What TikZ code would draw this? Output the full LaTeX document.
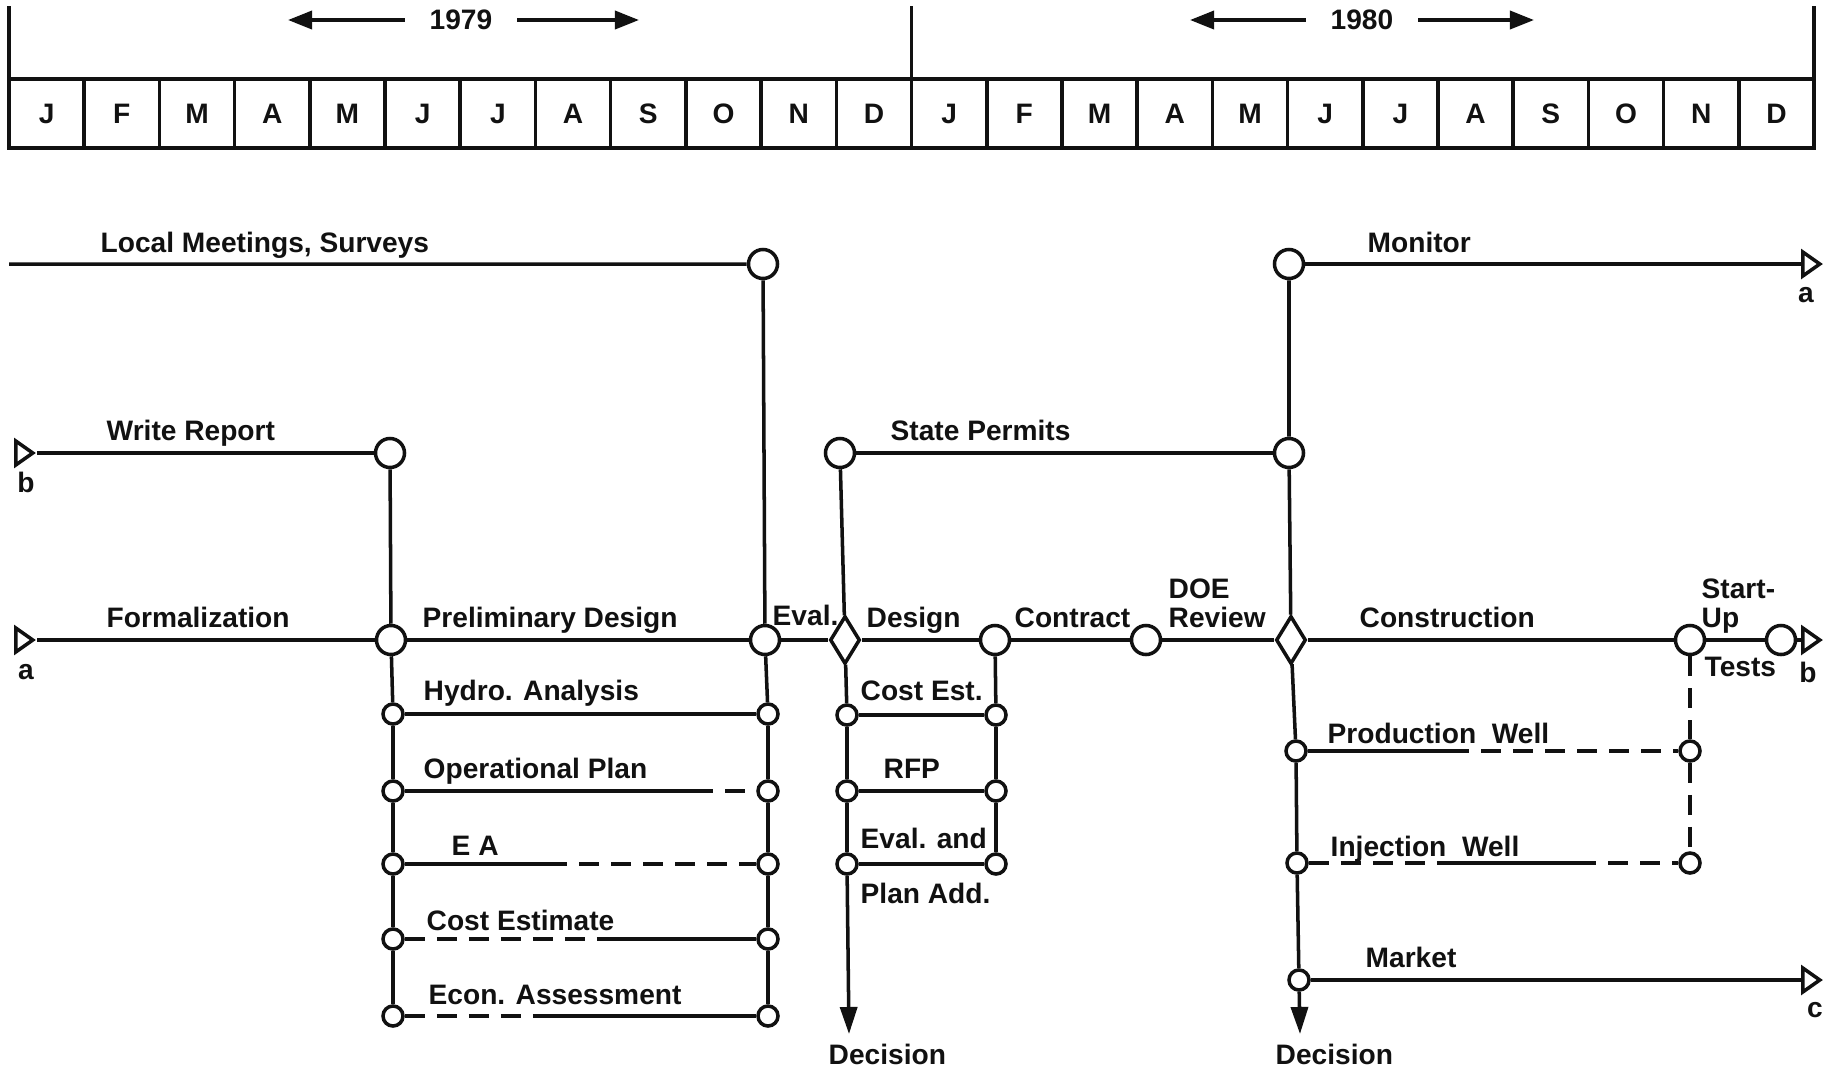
\documentclass[tikz,border=0pt]{standalone}
\usepackage{fontspec}
\setmainfont{Liberation Sans}
\usepackage{tikz}
\usetikzlibrary{arrows.meta,positioning,shapes.geometric}
\definecolor{ink}{HTML}{111111}
\tikzset{
  event/.style={
    circle, draw=ink, fill=white, line width=1pt,
    minimum size=0.29cm, inner sep=0pt
  },
  subevent/.style={event, minimum size=0.2cm},
  decision/.style={
    diamond, draw=ink, fill=white, line width=1pt,
    minimum width=0.3cm, minimum height=0.48cm, inner sep=0pt
  },
  offpagemark/.style={
    isosceles triangle, isosceles triangle stretches,
    draw=ink, fill=white, line width=1pt, inner sep=0pt,
    minimum width=0.24cm, minimum height=0.17cm
  },
  monthbox/.style={
    rectangle, draw=ink, line width=1pt, outer sep=0pt,
    minimum width=0.7521cm, minimum height=0.69cm, inner sep=0pt,
    font=\bfseries\fontsize{8}{10}\selectfont, text=ink
  },
  task/.style={draw=ink, line width=1pt},
  tentative/.style={task, dash pattern=on 0.2cm off 0.12cm},
  tasklabel/.style={
    anchor=base west, inner sep=0pt,
    font=\bfseries\fontsize{8}{10}\selectfont, text=ink
  },
  pagelabel/.style={inner sep=0pt, font=\bfseries\fontsize{8}{10}\selectfont, text=ink},
  yearlabel/.style={
    inner xsep=0.24cm, inner ysep=0pt,
    font=\bfseries\fontsize{8}{10}\selectfont, text=ink
  },
  yeararrow/.style={task, -{Triangle[length=0.24cm, width=0.18cm]}},
  decisionarrow/.style={task, -{Triangle[length=0.27cm, width=0.17cm]}},
}

\begin{document}
\begin{tikzpicture}[x=0.01cm, y=-0.01cm]
  \useasboundingbox (0,0) rectangle (1829,1069);

  % Calendar strip
  \foreach \m [count=\i from 0] in {J,F,M,A,M,J,J,A,S,O,N,D,J,F,M,A,M,J,J,A,S,O,N,D}
    \node[monthbox] (mo\i) at ({9+75.21*(\i+0.5)},113.5) {\m};
  \draw[task] (mo0.north west) -- ++(0,-73);
  \draw[task] (mo11.north east) -- ++(0,-73);
  \draw[task] (mo23.north east) -- ++(0,-73);

  \node[yearlabel] (yr79) at (461,20) {1979};
  \coordinate (yr79w) at (288,20);
  \coordinate (yr79e) at (639,20);
  \draw[yeararrow] (yr79) -- (yr79w);
  \draw[yeararrow] (yr79) -- (yr79e);

  \node[yearlabel] (yr80) at (1362,20) {1980};
  \coordinate (yr80w) at (1190,20);
  \coordinate (yr80e) at (1534,20);
  \draw[yeararrow] (yr80) -- (yr80w);
  \draw[yeararrow] (yr80) -- (yr80e);

  % Upper tracks
  \coordinate (lmstart) at (9,264);
  \node[event] (lm) at (763,264) {};
  \node[event] (mon) at (1289,264) {};
  \node[offpagemark] (ta2) at (1809,264) {};

  \node[offpagemark] (tb1) at (22,453) {};
  \node[event] (wr) at (390,453) {};
  \node[event] (sp1) at (840,453) {};
  \node[event] (sp2) at (1289,453) {};

  % Main line
  \node[offpagemark] (ta1) at (22,640) {};
  \node[event] (pd) at (391,640) {};
  \node[event] (ev) at (765,640) {};
  \node[decision] (dd) at (845,640) {};
  \node[event] (dc) at (995,640) {};
  \node[event] (doe) at (1146,640) {};
  \node[decision] (cd) at (1291,640) {};
  \node[event] (su) at (1690,640) {};
  \node[event] (su2) at (1781,640) {};
  \node[offpagemark] (tb2) at (1809,640) {};

  % Preliminary design ladder
  \foreach \n/\y in {hyd/714, ops/791, ea/864, cst/939, eco/1016} {
    \node[subevent] (\n1) at (393,\y) {};
    \node[subevent] (\n2) at (768,\y) {};
  }
  \coordinate (opsbrk) at (693,791);
  \coordinate (eabrk) at (547,864);
  \coordinate (cstbrk) at (610,939);
  \coordinate (ecobrk) at (545,1016);

  % Design ladder
  \foreach \n/\y in {ce/715, rfp/791, epa/864} {
    \node[subevent] (\n1) at (847,\y) {};
    \node[subevent] (\n2) at (996,\y) {};
  }
  \coordinate (dec1) at (849,1034);

  % Construction ladder
  \node[subevent] (pw1) at (1296,751) {};
  \node[subevent] (pw2) at (1690,751) {};
  \node[subevent] (iw1) at (1297,863) {};
  \node[subevent] (iw2) at (1690,863) {};
  \node[subevent] (mk1) at (1299,980) {};
  \node[offpagemark] (tc) at (1809,980) {};
  \coordinate (dec2) at (1300,1034);
  \coordinate (pwbrk) at (1449,751);
  \coordinate (iwbrk1) at (1452,863);
  \coordinate (iwbrk2) at (1576,863);

  % Connectors
  \draw[task] (lmstart) -- (lm) -- (ev);
  \draw[task] (mon) -- (ta2);
  \draw[task] (mon) -- (sp2) -- (cd);
  \draw[task] (tb1) -- (wr);
  \draw[task] (wr) -- (pd);
  \draw[task] (sp1) -- (sp2);
  \draw[task] (sp1) -- (dd);
  \draw[task] (ta1) -- (pd);
  \draw[task] (pd) -- (ev) -- (dd) -- (dc) -- (doe) -- (cd) -- (su) -- (su2);
  \draw[task] (su2) -- (tb2);

  \draw[task] (pd) -- (hyd1) -- (ops1) -- (ea1) -- (cst1) -- (eco1);
  \draw[task] (ev) -- (hyd2) -- (ops2) -- (ea2) -- (cst2) -- (eco2);
  \draw[task] (hyd1) -- (hyd2);
  \draw[task] (ops1) -- (opsbrk);
  \draw[tentative] (opsbrk) -- (ops2);
  \draw[task] (ea1) -- (eabrk);
  \draw[tentative] (eabrk) -- (ea2);
  \draw[tentative] (cst1) -- (cstbrk);
  \draw[task] (cstbrk) -- (cst2);
  \draw[tentative] (eco1) -- (ecobrk);
  \draw[task] (ecobrk) -- (eco2);

  \draw[task] (dd) -- (ce1) -- (rfp1) -- (epa1);
  \draw[decisionarrow] (epa1) -- (dec1);
  \draw[task] (dc) -- (ce2) -- (rfp2) -- (epa2);
  \draw[task] (ce1) -- (ce2);
  \draw[task] (rfp1) -- (rfp2);
  \draw[task] (epa1) -- (epa2);

  \draw[task] (cd) -- (pw1) -- (iw1) -- (mk1);
  \draw[decisionarrow] (mk1) -- (dec2);
  \draw[tentative] (su) -- (pw2) -- (iw2);
  \draw[task] (pw1) -- (pwbrk);
  \draw[tentative] (pwbrk) -- (pw2);
  \draw[tentative] (iw1) -- (iwbrk1);
  \draw[task] (iwbrk1) -- (iwbrk2);
  \draw[tentative] (iwbrk2) -- (iw2);
  \draw[task] (mk1) -- (tc);

  % Task labels
  \node[tasklabel] (lblLocal) at (100,252) {Local Meetings, Surveys};
  \node[tasklabel] (lblMon) at (1367,252) {Monitor};
  \node[tasklabel] (lblWr) at (106,440) {Write Report};
  \node[tasklabel] (lblSp) at (890,440) {State Permits};
  \node[tasklabel] (lblFrm) at (106,627) {Formalization};
  \node[tasklabel] (lblPd) at (422,627) {Preliminary Design};
  \node[tasklabel] (lblEv) at (772,625) {Eval.};
  \node[tasklabel] (lblDes) at (866,627) {Design};
  \node[tasklabel] (lblCon) at (1014,627) {Contract};
  \node[tasklabel] (lblDoe) at (1168,598) {DOE};
  \node[tasklabel] (lblRev) at (1168,627) {Review};
  \node[tasklabel] (lblCstr) at (1359,627) {Construction};
  \node[tasklabel] (lblSt) at (1701,598) {Start-};
  \node[tasklabel] (lblUp) at (1701,627) {Up};
  \node[tasklabel] (lblTst) at (1704,676) {Tests};

  \node[tasklabel] (lblHyd) at (423,700) {Hydro. Analysis};
  \node[tasklabel] (lblOps) at (423,778) {Operational Plan};
  \node[tasklabel] (lblEa) at (451,855) {E A};
  \node[tasklabel] (lblCst) at (426,930) {Cost Estimate};
  \node[tasklabel] (lblEco) at (428,1004) {Econ. Assessment};

  \node[tasklabel] (lblCe) at (860,700) {Cost Est.};
  \node[tasklabel] (lblRfp) at (883,778) {RFP};
  \node[tasklabel] (lblEpa) at (860,848) {Eval. and};
  \node[tasklabel] (lblPa) at (860,903) {Plan Add.};

  \node[tasklabel] (lblPw) at (1327,743) {Production\ \ Well};
  \node[tasklabel] (lblIw) at (1330,856) {Injection\ \ Well};
  \node[tasklabel] (lblMk) at (1365,967) {Market};

  \node[pagelabel, below right=0.09cm and -0.21cm of dec1] (lblDec1) {Decision};
  \node[pagelabel, below right=0.09cm and -0.25cm of dec2] (lblDec2) {Decision};

  % Off-page connector letters
  \node[pagelabel, anchor=base] (pgB1) at (26,492) {b};
  \node[pagelabel, anchor=base] (pgA1) at (26,679) {a};
  \node[pagelabel, anchor=base] (pgA2) at (1806,302) {a};
  \node[pagelabel, anchor=base] (pgB2) at (1808,682) {b};
  \node[pagelabel, anchor=base] (pgC) at (1815,1017) {c};
\end{tikzpicture}
\end{document}
